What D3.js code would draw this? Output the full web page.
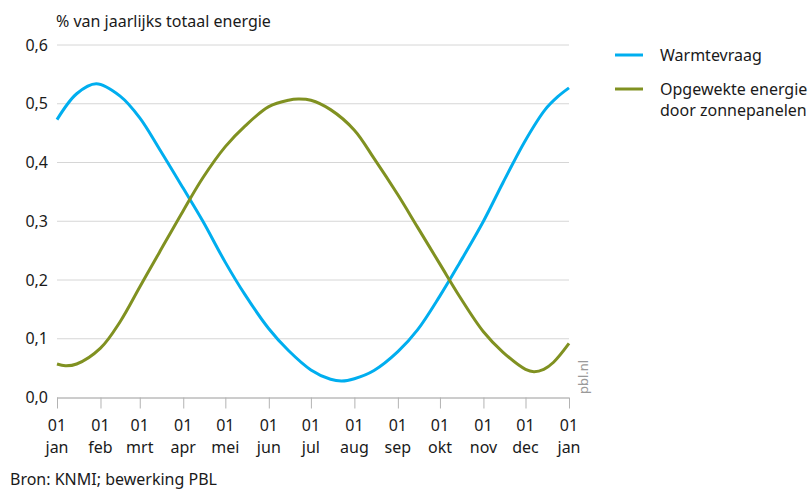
<!DOCTYPE html>
<html>
<head>
<meta charset="utf-8">
<script src="https://cdn.jsdelivr.net/npm/d3@7"></script>
<style>
  html, body { margin: 0; padding: 0; background: #fff; }
  svg { display: block; font-family: "Noto Sans", "Open Sans", sans-serif; }
</style>
</head>
<body>
<div id="chart"></div>
<script>
// Warmtevraag vs opgewekte zonne-energie, % van jaarlijks totaal
const warmteDates = ["2019-01-01","2019-01-15","2019-01-29","2019-02-15","2019-03-01","2019-03-15","2019-04-01","2019-04-15","2019-05-01","2019-05-15","2019-06-01","2019-06-15","2019-07-01","2019-07-15","2019-07-23","2019-08-01","2019-08-15","2019-09-01","2019-09-15","2019-10-01","2019-10-15","2019-11-01","2019-11-15","2019-12-01","2019-12-15","2019-12-24","2020-01-01"];
const warmteValues = [0.473,0.517,0.534,0.513,0.476,0.423,0.356,0.300,0.230,0.175,0.117,0.080,0.047,0.031,0.028,0.032,0.046,0.078,0.115,0.173,0.229,0.300,0.366,0.438,0.490,0.512,0.527];

const zonDates = ["2019-01-01","2019-01-07","2019-01-15","2019-02-01","2019-02-15","2019-03-01","2019-03-15","2019-04-01","2019-04-15","2019-05-01","2019-05-15","2019-06-01","2019-06-15","2019-06-22","2019-07-01","2019-07-15","2019-08-01","2019-08-15","2019-09-01","2019-09-15","2019-10-01","2019-10-15","2019-11-01","2019-11-15","2019-12-01","2019-12-07","2019-12-14","2019-12-21","2020-01-01"];
const zonValues = [0.057,0.054,0.057,0.084,0.129,0.188,0.247,0.318,0.374,0.427,0.462,0.495,0.506,0.508,0.506,0.490,0.455,0.407,0.345,0.290,0.227,0.172,0.112,0.077,0.048,0.044,0.048,0.060,0.092];

const monthLabels = ["jan","feb","mrt","apr","mei","jun","jul","aug","sep","okt","nov","dec","jan"];
const yTicks = [0, 0.1, 0.2, 0.3, 0.4, 0.5, 0.6];
const seriesNames = ["Warmtevraag", ["Opgewekte energie", "door zonnepanelen"]];
const colors = ["#00aeef", "#809121"];

const width = 808, height = 489;
const margin = {top: 45, left: 57, right: 239, bottom: 91.5};
const fontSize = "16px";

const parse = d3.timeParse("%Y-%m-%d");
const warmte = warmteDates.map((d, i) => ({date: parse(d), value: warmteValues[i]}));
const zon = zonDates.map((d, i) => ({date: parse(d), value: zonValues[i]}));

const x = d3.scaleTime()
    .domain([parse("2019-01-01"), parse("2020-01-01")])
    .range([margin.left, width - margin.right]);
const y = d3.scaleLinear()
    .domain([0, 0.6])
    .range([height - margin.bottom, margin.top]);

const svg = d3.select("#chart")
  .append("svg")
    .attr("width", width)
    .attr("height", height)
    .attr("viewBox", [0, 0, width, height]);

// gridlines
svg.append("g")
  .selectAll("line")
  .data(yTicks.filter(d => d > 0))
  .join("line")
    .attr("x1", x.range()[0])
    .attr("x2", x.range()[1])
    .attr("y1", d => y(d))
    .attr("y2", d => y(d))
    .attr("stroke", "#d6d6d6")
    .attr("stroke-width", 1);

// y labels
const fmt = d3.format(".1f");
svg.append("g")
  .selectAll("text")
  .data(yTicks)
  .join("text")
    .attr("x", 48)
    .attr("y", d => y(d))
    .attr("dy", "0.35em")
    .attr("text-anchor", "end")
    .attr("font-size", fontSize)
    .attr("fill", "#1a1a1a")
    .text(d => fmt(d).replace(".", ","));

// x axis
const monthTicks = d3.timeMonth.range(x.domain()[0], d3.timeDay.offset(x.domain()[1], 1));
const xAxis = svg.append("g")
    .attr("transform", `translate(0,${y(0)})`)
    .call(d3.axisBottom(x).tickValues(monthTicks).tickSize(11).tickFormat(""));
xAxis.select(".domain").attr("stroke", "#9a9a9a").attr("d", `M${x.range()[0]},0.5H${x.range()[1]}`);
xAxis.selectAll(".tick line").attr("stroke", "#b3b3b3");

// two-line tick labels: day + month
const xLabels = svg.append("g")
  .selectAll("text")
  .data(monthTicks)
  .join("text")
    .attr("transform", d => `translate(${x(d)},0)`)
    .attr("y", 431)
    .attr("text-anchor", "middle")
    .attr("font-size", fontSize)
    .attr("fill", "#1a1a1a");
xLabels.append("tspan")
    .attr("x", 0)
    .text("01");
xLabels.append("tspan")
    .attr("x", 0)
    .attr("dy", 22)
    .text((d, i) => monthLabels[i]);

// lines
const line = d3.line()
    .x(d => x(d.date))
    .y(d => y(d.value))
    .curve(d3.curveCatmullRom.alpha(0.5));

[warmte, zon].forEach((data, i) => {
  svg.append("path")
      .datum(data)
      .attr("fill", "none")
      .attr("stroke", colors[i])
      .attr("stroke-width", 3)
      .attr("d", line);
});

// title
svg.append("text")
    .attr("x", 56)
    .attr("y", 27)
    .attr("font-size", fontSize)
    .attr("fill", "#1a1a1a")
    .text("% van jaarlijks totaal energie");

// legend
const legendY = [55, 89];
seriesNames.forEach((name, i) => {
  svg.append("line")
      .attr("x1", 615).attr("x2", 643)
      .attr("y1", legendY[i]).attr("y2", legendY[i])
      .attr("stroke", colors[i])
      .attr("stroke-width", 3);
  const t = svg.append("text")
      .attr("x", 660)
      .attr("y", legendY[i] + 6)
      .attr("font-size", fontSize)
      .attr("fill", "#1a1a1a");
  [].concat(name).forEach((s, j) => {
    t.append("tspan").attr("x", 660).attr("dy", j ? 21 : 0).text(s);
  });
});

// source
svg.append("text")
    .attr("x", 10)
    .attr("y", 485)
    .attr("font-size", fontSize)
    .attr("fill", "#1a1a1a")
    .text("Bron: KNMI; bewerking PBL");

// watermark
svg.append("text")
    .attr("transform", "translate(588,394) rotate(-90)")
    .attr("font-size", "13px")
    .attr("fill", "#9a9a9a")
    .text("pbl.nl");
</script>
</body>
</html>
